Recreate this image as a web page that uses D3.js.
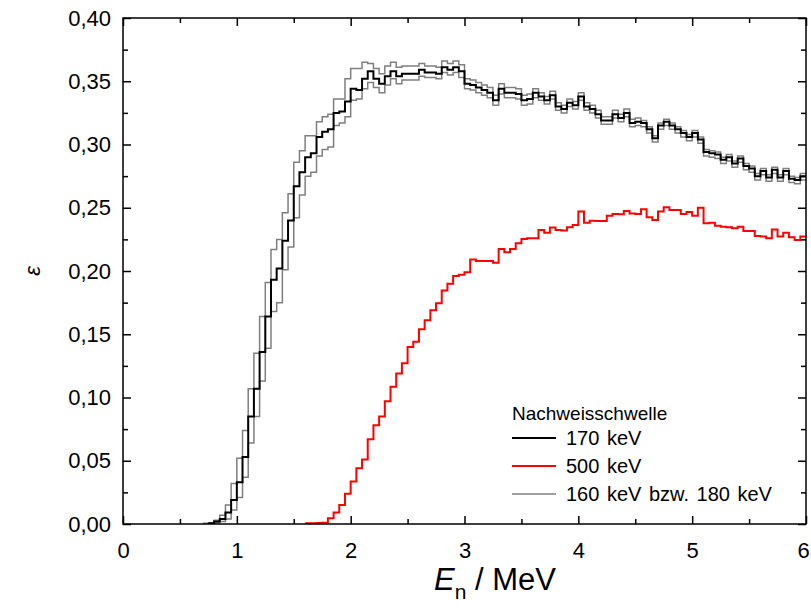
<!DOCTYPE html>
<html lang="de">
<head>
<meta charset="utf-8">
<title>Nachweiswahrscheinlichkeit</title>
<style>
body { margin: 0; background: #fff; }
text { font-family: "Liberation Sans", Arial, sans-serif; fill: #000; }
.frame { fill: none; stroke: #000; stroke-width: 1.5px; }
.tick line { stroke: #000; stroke-width: 1.5px; }
.hist { fill: none; stroke-linejoin: miter; }
</style>
</head>
<body>
<svg width="811" height="609"></svg>
<script src="https://d3js.org/d3.v7.min.js"></script>
<script>
// bin width of the histograms in MeV
var binWidth = 0.05;

var xTicks = [0, 1, 2, 3, 4, 5, 6];
var yTicks = [0, 0.05, 0.10, 0.15, 0.20, 0.25, 0.30, 0.35, 0.40];

// 170 keV threshold, first bin starts at 0.75 MeV
var start170 = 0.75;
var eff170 = [
  0.0005, 0.002, 0.004, 0.009, 0.019, 0.033, 0.053, 0.085, 0.107, 0.136,
  0.164, 0.193, 0.202, 0.224, 0.240, 0.267, 0.278, 0.290, 0.293, 0.306,
  0.310, 0.312, 0.325, 0.326, 0.334,
  0.344, 0.343, 0.352, 0.358, 0.352, 0.348, 0.354, 0.358, 0.354, 0.356,
  0.356, 0.356, 0.359, 0.357, 0.357, 0.356, 0.361, 0.359, 0.361, 0.358,
  0.348, 0.347, 0.345, 0.343, 0.341, 0.335,
  0.344, 0.341, 0.341, 0.340, 0.335, 0.336, 0.341, 0.338, 0.335, 0.339,
  0.330, 0.328, 0.333, 0.331, 0.338, 0.330, 0.328, 0.324, 0.319, 0.319,
  0.324, 0.321, 0.325, 0.317, 0.318, 0.317, 0.312, 0.305, 0.315, 0.318,
  0.315, 0.312, 0.309, 0.306, 0.309, 0.304, 0.294, 0.293, 0.292, 0.288,
  0.290, 0.285, 0.289, 0.283, 0.281, 0.275, 0.279, 0.274, 0.280, 0.274,
  0.279, 0.273, 0.272, 0.275
];

// 160 keV threshold, first bin starts at 0.70 MeV
var start160 = 0.70;
var eff160 = [
  0.0005, 0.001, 0.003, 0.007, 0.015, 0.032, 0.052, 0.074, 0.107, 0.135,
  0.164, 0.191, 0.217, 0.225, 0.246, 0.261, 0.286, 0.295, 0.307, 0.307,
  0.318, 0.322, 0.324, 0.336, 0.336, 0.352,
  0.360, 0.360, 0.365, 0.364, 0.360, 0.356, 0.362, 0.365, 0.361, 0.362,
  0.362, 0.362, 0.364, 0.362, 0.362, 0.361, 0.366, 0.364, 0.366, 0.363,
  0.352, 0.351, 0.349, 0.347, 0.345, 0.339,
  0.348, 0.345, 0.345, 0.344, 0.339, 0.340, 0.344, 0.341, 0.338, 0.342,
  0.333, 0.331, 0.336, 0.334, 0.341, 0.333, 0.331, 0.327, 0.322, 0.322,
  0.327, 0.324, 0.328, 0.320, 0.321, 0.319, 0.314, 0.307, 0.317, 0.320,
  0.317, 0.314, 0.311, 0.308, 0.311, 0.306, 0.296, 0.295, 0.294, 0.290,
  0.292, 0.287, 0.291, 0.285, 0.283, 0.277, 0.281, 0.276, 0.282, 0.276,
  0.281, 0.275, 0.274, 0.277
];

// 180 keV threshold, first bin starts at 0.75 MeV
var start180 = 0.75;
var eff180 = [
  0.0005, 0.001, 0.002, 0.004, 0.011, 0.021, 0.037, 0.064, 0.085, 0.113,
  0.139, 0.168, 0.175, 0.201, 0.219, 0.242, 0.260, 0.275, 0.278, 0.291,
  0.296, 0.298, 0.315, 0.317, 0.322,
  0.335, 0.336, 0.344, 0.349, 0.345, 0.341, 0.347, 0.352, 0.348, 0.351,
  0.351, 0.351, 0.354, 0.353, 0.353, 0.352, 0.357, 0.355, 0.357, 0.353,
  0.344, 0.343, 0.341, 0.339, 0.337, 0.331,
  0.340, 0.337, 0.337, 0.336, 0.331, 0.332, 0.337, 0.335, 0.332, 0.336,
  0.327, 0.325, 0.330, 0.328, 0.335, 0.327, 0.325, 0.321, 0.316, 0.316,
  0.321, 0.318, 0.322, 0.314, 0.315, 0.314, 0.309, 0.302, 0.312, 0.315,
  0.312, 0.309, 0.306, 0.303, 0.306, 0.301, 0.291, 0.290, 0.289, 0.285,
  0.287, 0.282, 0.286, 0.280, 0.278, 0.272, 0.276, 0.271, 0.277, 0.271,
  0.276, 0.270, 0.269, 0.272
];

// 500 keV threshold, first bin starts at 1.60 MeV
var start500 = 1.60;
var eff500 = [
  0.0005, 0.0005, 0.0008, 0.001, 0.0045, 0.009, 0.015, 0.024,
  0.0335, 0.044, 0.051, 0.067, 0.078, 0.085, 0.097, 0.1085, 0.119, 0.127,
  0.140, 0.144, 0.154, 0.161, 0.169, 0.1745, 0.1845, 0.190, 0.196, 0.197,
  0.199, 0.209, 0.208, 0.208, 0.208, 0.2066, 0.2174, 0.2148, 0.2174, 0.222,
  0.2253, 0.2258, 0.2258, 0.2324, 0.2303, 0.2343, 0.2324, 0.232, 0.2345, 0.2364,
  0.247, 0.2382, 0.2398, 0.2395, 0.2395, 0.2437, 0.245, 0.2448, 0.2474, 0.2455,
  0.245, 0.2488, 0.2424, 0.2403, 0.247, 0.2503, 0.2482, 0.2482, 0.245, 0.2466,
  0.2437, 0.250, 0.2377, 0.2382, 0.2358, 0.235, 0.2345, 0.2337, 0.235, 0.2316,
  0.2316, 0.2277, 0.2272, 0.2258, 0.2329, 0.2272, 0.2303, 0.2266, 0.2245, 0.2272
];

var series = [
  {name: "160 keV", start: start160, values: eff160, color: "#7f7f7f", width: 1.5},
  {name: "180 keV", start: start180, values: eff180, color: "#7f7f7f", width: 1.5},
  {name: "500 keV", start: start500, values: eff500, color: "#ff0000", width: 2},
  {name: "170 keV", start: start170, values: eff170, color: "#000000", width: 2}
];

var svg = d3.select("svg"),
    margin = {top: 18, right: 5, bottom: 85, left: 123},
    width = +svg.attr("width") - margin.left - margin.right,
    height = +svg.attr("height") - margin.top - margin.bottom;

var x = d3.scaleLinear().domain([0, 6]).range([0, width]);
var y = d3.scaleLinear().domain([0, 0.40]).range([height, 0]);

var g = svg.append("g").attr("transform", "translate(" + margin.left + "," + margin.top + ")");

var fmt = function(d) { return d3.format(".2f")(d).replace(".", ","); };

// histogram as a step line: one point per bin edge
function stepPoints(s) {
  var pts = s.values.map(function(v, i) { return [s.start + i * binWidth, v]; });
  pts.push([s.start + s.values.length * binWidth, s.values[s.values.length - 1]]);
  return pts;
}

var line = d3.line()
    .x(function(d) { return x(d[0]); })
    .y(function(d) { return y(d[1]); })
    .curve(d3.curveStepAfter);

g.append("defs").append("clipPath").attr("id", "clip")
  .append("rect").attr("width", width).attr("height", height);

g.append("g").attr("clip-path", "url(#clip)")
  .selectAll("path")
  .data(series)
  .enter().append("path")
    .attr("class", "hist")
    .attr("d", function(d) { return line(stepPoints(d)); })
    .attr("stroke", function(d) { return d.color; })
    .attr("stroke-width", function(d) { return d.width; });

// axes, ticks pointing inward on all four sides
var xMinor = d3.range(0.5, 6, 1);
var yMinor = d3.range(0.025, 0.4, 0.05);
var noDomain = function(a) { a.select(".domain").remove(); };

var xAxisG = g.append("g")
  .attr("transform", "translate(0," + height + ")")
  .call(d3.axisBottom(x).tickValues(xTicks).tickSizeInner(-8).tickSizeOuter(0).tickPadding(18).tickFormat(d3.format("d")))
  .call(noDomain);
// last label sits on the canvas edge, nudge it inside
xAxisG.selectAll(".tick text").filter(function(d) { return d === 6; }).attr("dx", -3);

g.append("g").attr("transform", "translate(0," + height + ")")
  .call(d3.axisBottom(x).tickValues(xMinor).tickSizeInner(-5).tickSizeOuter(0).tickFormat(""))
  .call(noDomain);
g.append("g")
  .call(d3.axisTop(x).tickValues(xTicks).tickSizeInner(-8).tickSizeOuter(0).tickFormat(""))
  .call(noDomain);
g.append("g")
  .call(d3.axisTop(x).tickValues(xMinor).tickSizeInner(-5).tickSizeOuter(0).tickFormat(""))
  .call(noDomain);

g.append("g")
  .call(d3.axisLeft(y).tickValues(yTicks).tickSizeInner(-8).tickSizeOuter(0).tickPadding(12).tickFormat(fmt))
  .call(noDomain);
g.append("g")
  .call(d3.axisLeft(y).tickValues(yMinor).tickSizeInner(-5).tickSizeOuter(0).tickFormat(""))
  .call(noDomain);
g.append("g").attr("transform", "translate(" + width + ",0)")
  .call(d3.axisRight(y).tickValues(yTicks).tickSizeInner(-8).tickSizeOuter(0).tickFormat(""))
  .call(noDomain);
g.append("g").attr("transform", "translate(" + width + ",0)")
  .call(d3.axisRight(y).tickValues(yMinor).tickSizeInner(-5).tickSizeOuter(0).tickFormat(""))
  .call(noDomain);

g.selectAll(".tick text").attr("font-family", null).attr("font-size", null).style("font-size", "22px");

g.append("rect").attr("class", "frame").attr("width", width).attr("height", height);

// axis titles
var xt = svg.append("text")
    .attr("x", 434)
    .attr("y", 590)
    .style("font-size", "31px");
xt.append("tspan").style("font-style", "italic").text("E");
xt.append("tspan").attr("dy", 9).style("font-size", "21px").text("n");
xt.append("tspan").attr("dy", -9).text("  / MeV");

svg.append("text")
    .attr("transform", "translate(40," + (margin.top + height / 2) + ") rotate(-90)")
    .attr("text-anchor", "middle")
    .style("font-size", "22px")
    .style("font-style", "italic")
    .text("\u03b5");

// legend
var legendItems = [
  {label: "170 keV", color: "#000000", width: 2},
  {label: "500 keV", color: "#ff0000", width: 2},
  {label: "160 keV bzw. 180 keV", color: "#7f7f7f", width: 1.5}
];
var leg = svg.append("g").attr("transform", "translate(512,420)");
leg.append("text").attr("x", 0).attr("y", 0).style("font-size", "19px").text("Nachweisschwelle");
var li = leg.selectAll("g.item").data(legendItems).enter().append("g")
    .attr("class", "item")
    .attr("transform", function(d, i) { return "translate(0," + (25 + 28 * i) + ")"; });
li.append("line").attr("x1", 0).attr("x2", 44).attr("y1", -7).attr("y2", -7)
    .attr("stroke", function(d) { return d.color; })
    .attr("stroke-width", function(d) { return d.width; });
li.append("text").attr("x", 54).attr("y", 0).style("font-size", "20px")
    .style("word-spacing", "2px")
    .text(function(d) { return d.label; });
</script>
</body>
</html>
